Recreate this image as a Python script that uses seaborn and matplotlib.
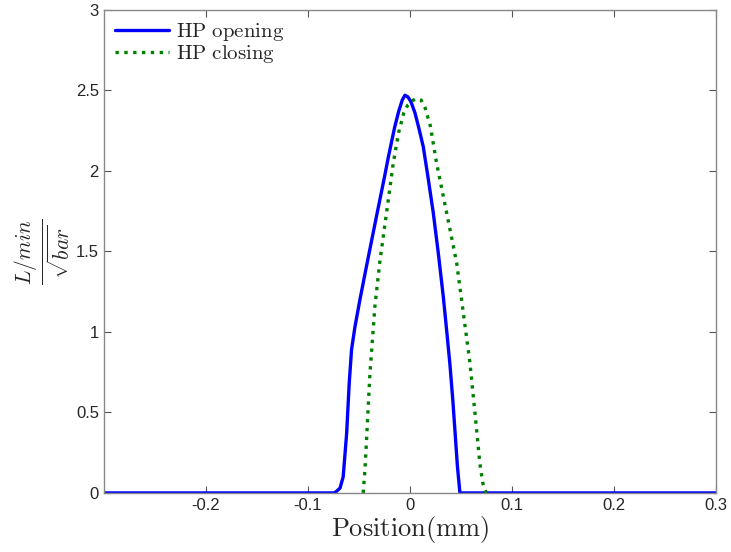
import numpy as np
import pandas as pd
import matplotlib
matplotlib.use('Agg')
import matplotlib.pyplot as plt
import seaborn as sns

# HP opening (blue)
open_x = [-0.30, -0.074, -0.0719, -0.0685, -0.0654, -0.062, -0.0595, -0.0572, -0.0539, -0.049,
          -0.0425, -0.0327, -0.025, -0.021, -0.0150, -0.0110, -0.0075, -0.0049, -0.0020,
          0.0010, 0.0050, 0.0090, 0.0131, 0.0180, 0.0229, 0.0280, 0.0327, 0.0360, 0.0392,
          0.0420, 0.0441, 0.0465, 0.0490, 0.30]
open_y = [0.0, 0.0, 0.01, 0.03, 0.10, 0.37, 0.68, 0.89, 1.03, 1.20,
          1.41, 1.72, 1.96, 2.09, 2.27, 2.37, 2.44, 2.47, 2.46,
          2.43, 2.36, 2.26, 2.15, 1.95, 1.74, 1.48, 1.22, 1.01, 0.80,
          0.58, 0.39, 0.17, 0.0, 0.0]

# HP closing (green)
close_x = [-0.0458, -0.0440, -0.0425, -0.0392, -0.0343, -0.0294, -0.0229, -0.0163, -0.0110,
           -0.0060, -0.0020, 0.0020, 0.0065, 0.0110, 0.0150, 0.0200, 0.0261,
           0.0360, 0.0458, 0.0523, 0.0588, 0.0637, 0.0686, 0.0715, 0.0735, 0.0750]
close_y = [0.0, 0.15, 0.33, 0.74, 1.16, 1.44, 1.74, 2.05, 2.24,
           2.36, 2.41, 2.435, 2.45, 2.44, 2.39, 2.28, 2.05,
           1.74, 1.43, 1.12, 0.81, 0.50, 0.18, 0.06, 0.02, 0.0]

sns.set_style('ticks', {'xtick.direction': 'in', 'ytick.direction': 'in'})
plt.rcParams['font.family'] = ['Liberation Sans', 'DejaVu Sans']
plt.rcParams['mathtext.fontset'] = 'cm'

fig = plt.figure(figsize=(7.31, 5.52), dpi=100)
ax = fig.add_axes([0.142, 0.107, 0.8375, 0.875])

df_open = pd.DataFrame({'x': open_x, 'y': open_y})
df_close = pd.DataFrame({'x': close_x, 'y': close_y})

sns.lineplot(data=df_open, x='x', y='y', ax=ax, color='#0000ff', linewidth=2.4,
             label=r'$\mathrm{HP\ opening}$', sort=False)
sns.lineplot(data=df_close, x='x', y='y', ax=ax, color='#008000', linewidth=2.4,
             linestyle=':', label=r'$\mathrm{HP\ closing}$', sort=False)

ax.set_xlim(-0.3, 0.3)
ax.set_ylim(0, 3)
ax.set_xticks([-0.2, -0.1, 0, 0.1, 0.2, 0.3])
ax.set_xticklabels(['-0.2', '-0.1', '0', '0.1', '0.2', '0.3'])
ax.set_yticks([0, 0.5, 1, 1.5, 2, 2.5, 3])
ax.set_yticklabels(['0', '0.5', '1', '1.5', '2', '2.5', '3'])
ax.tick_params(labelsize=12, top=True, right=True, length=5, width=0.8, color='#555555')
for s in ax.spines.values():
    s.set_color('#888888')
    s.set_linewidth(1.0)

ax.set_xlabel(r'$\mathrm{Position(mm)}$', fontsize=19, labelpad=1)
ax.set_ylabel(r'$\frac{L/min}{\sqrt{bar}}$', fontsize=22, labelpad=2)

ax.legend(loc='upper left', frameon=False, fontsize=15, handlelength=2.6,
          borderaxespad=0.15, labelspacing=0.0, handletextpad=0.3)

fig.savefig('out.png', dpi=100)
